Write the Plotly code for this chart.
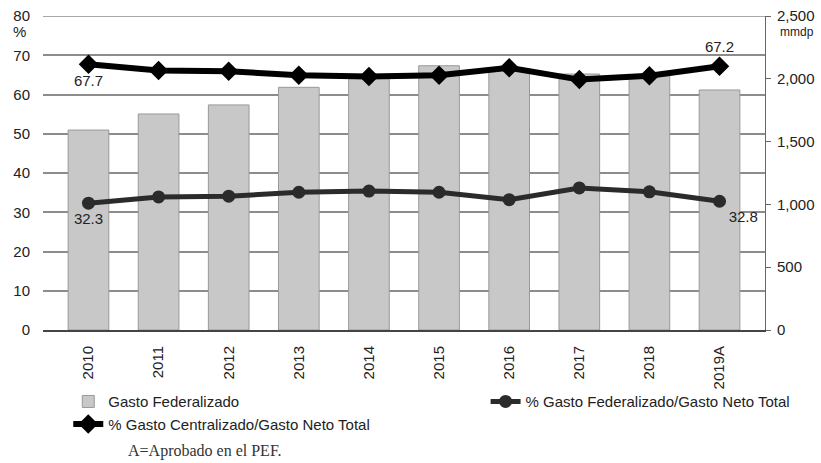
import plotly.graph_objects as go

# Data
years = ["2010", "2011", "2012", "2013", "2014", "2015", "2016", "2017", "2018", "2019A"]
gasto_federalizado = [1592, 1720, 1792, 1932, 2020, 2104, 2080, 2038, 2025, 1911]  # mmdp
pct_federalizado = [32.3, 33.9, 34.1, 35.1, 35.4, 35.1, 33.2, 36.2, 35.2, 32.8]
pct_centralizado = [67.7, 66.1, 65.9, 64.9, 64.6, 64.9, 66.8, 63.8, 64.8, 67.2]

left_ticks = [0, 10, 20, 30, 40, 50, 60, 70, 80]
right_ticks = [0, 500, 1000, 1500, 2000, 2500]
right_tick_labels = ["0", "500", "1,000", "1,500", "2,000", "2,500"]


def end_labels(values, first_pos, last_pos):
    """Only first and last points carry a value label"""
    text = [""] * len(values)
    pos = ["middle center"] * len(values)
    text[0] = f"{values[0]:.1f}"
    text[-1] = f"{values[-1]:.1f}"
    pos[0] = first_pos
    pos[-1] = last_pos
    return text, pos


FONT = "Liberation Sans, Arial, sans-serif"

fig = go.Figure()

# Bars (right axis, mmdp)
fig.add_trace(go.Bar(
    x=years,
    y=gasto_federalizado,
    name="Gasto Federalizado",
    marker=dict(color="#c8c8c8", line=dict(color="#999999", width=1)),
    yaxis="y",
    legend="legend",
))

fed_text, fed_pos = end_labels(pct_federalizado, "bottom center", "bottom right")
fig.add_trace(go.Scatter(
    x=years,
    y=pct_federalizado,
    name="% Gasto Federalizado/Gasto Neto Total",
    mode="lines+markers+text",
    line=dict(color="#2b2b2b", width=5),
    marker=dict(symbol="circle", size=13, color="#2b2b2b"),
    text=fed_text,
    textposition=fed_pos,
    textfont=dict(family=FONT, size=15, color="#222222"),
    yaxis="y2",
    legend="legend2",
))

cen_text, cen_pos = end_labels(pct_centralizado, "bottom center", "top center")
fig.add_trace(go.Scatter(
    x=years,
    y=pct_centralizado,
    name="% Gasto Centralizado/Gasto Neto Total",
    mode="lines+markers+text",
    line=dict(color="#000000", width=6),
    marker=dict(symbol="diamond", size=15, color="#000000"),
    text=cen_text,
    textposition=cen_pos,
    textfont=dict(family=FONT, size=15, color="#222222"),
    yaxis="y2",
    legend="legend",
))

# plotly skips the gridline sitting on the top edge, so draw it as a shape
fig.add_shape(
    type="line", xref="paper", x0=0, x1=1,
    yref="y2", y0=left_ticks[-1], y1=left_ticks[-1],
    line=dict(color="#8c8c8c", width=1.5), layer="below",
)

fig.update_layout(
    width=821,
    height=463,
    margin=dict(l=43, r=56, t=16, b=133, autoexpand=False),
    paper_bgcolor="white",
    plot_bgcolor="white",
    font=dict(family=FONT, size=15, color="#222222"),
    bargap=0.42,
    xaxis=dict(
        type="category",
        tickangle=-90,
        ticks="",
        showline=True,
        linecolor="#444444",
        linewidth=2,
        ticklabelstandoff=8,
        automargin=False,
        tickfont=dict(size=15, color="#222222"),
    ),
    yaxis=dict(
        side="right",
        range=[0, 2500],
        tickvals=right_ticks,
        ticktext=right_tick_labels,
        showgrid=False,
        zeroline=False,
        showline=True,
        linecolor="#666666",
        linewidth=1,
        ticks="outside",
        ticklen=5,
        tickcolor="#666666",
        ticklabelstandoff=3,
        automargin=False,
        tickfont=dict(size=15, color="#222222"),
    ),
    yaxis2=dict(
        side="left",
        overlaying="y",
        range=[0, 80],
        tickvals=left_ticks,
        showgrid=True,
        gridcolor="#8c8c8c",
        gridwidth=1.5,
        zeroline=False,
        showline=False,
        ticks="",
        ticklabelstandoff=12,
        automargin=False,
        tickfont=dict(size=15, color="#222222"),
    ),
    legend=dict(
        orientation="v",
        x=0.035,
        xanchor="left",
        yref="container",
        y=0.168,
        yanchor="top",
        bgcolor="rgba(0,0,0,0)",
        font=dict(family=FONT, size=15, color="#222222"),
        tracegroupgap=0,
    ),
    legend2=dict(
        orientation="v",
        x=0.613,
        xanchor="left",
        yref="container",
        y=0.168,
        yanchor="top",
        bgcolor="rgba(0,0,0,0)",
        font=dict(family=FONT, size=15, color="#222222"),
    ),
    annotations=[
        dict(text="%", xref="paper", yref="paper", x=-0.032, y=0.952,
             xanchor="center", yanchor="middle",
             showarrow=False, font=dict(size=15, color="#222222")),
        dict(text="mmdp", xref="paper", yref="paper", x=1.044, y=0.949,
             xanchor="center", yanchor="middle",
             showarrow=False, font=dict(size=12, color="#222222")),
        dict(text="A=Aprobado en el PEF.", xref="paper", yref="paper",
             x=0.115, y=-0.385, xanchor="left", yanchor="middle", showarrow=False,
             font=dict(family="Liberation Serif, serif", size=16, color="#333333")),
    ],
)

# drop the default 8px body margin so the figure sits at the page corner
fig.write_html(
    "out.html",
    config={"displayModeBar": False},
    post_script="document.body.style.margin = '0';",
)
